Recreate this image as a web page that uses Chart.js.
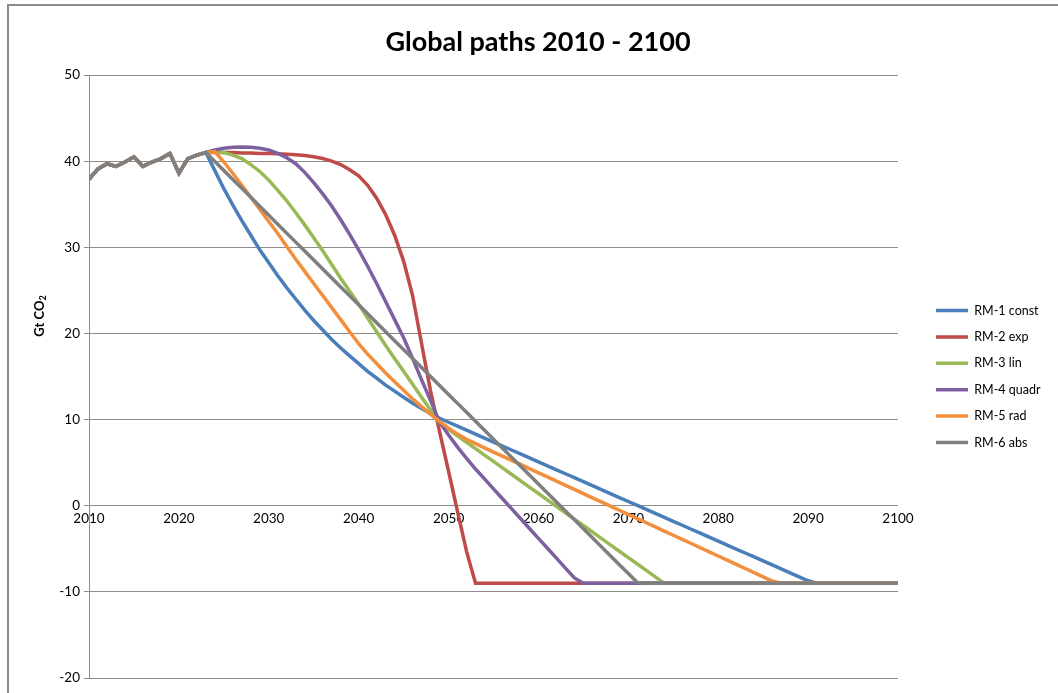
<!DOCTYPE html>
<html>
<head>
<meta charset="utf-8">
<script src="https://cdn.jsdelivr.net/npm/chart.js@4.4.1/dist/chart.umd.min.js"></script>
<style>
html,body{margin:0;padding:0;background:#fff;overflow:hidden;width:1058px;height:693px;}
#frame{position:absolute;left:7px;top:4px;width:1100px;height:800px;border:2px solid #8c8c8c;box-sizing:border-box;}
#wrap{position:absolute;left:0;top:0;width:1058px;height:693px;}
canvas{display:block;}
</style>
</head>
<body>
<div id="frame"></div>
<div id="wrap"><canvas id="c" width="1058" height="693" style="width:1058px;height:693px"></canvas></div>
<script>
// ---- data ----
const titleText = 'Global paths 2010 - 2100';
const yTitleMain = 'Gt CO';
const yTitleSub = '2';
const years = Array.from({length: 91}, (_, i) => 2010 + i); // 2010 ... 2100
const xTickStep = 10;
const yMin = -20, yMax = 50, yStep = 10;

const seriesNames = ['RM-1 const', 'RM-2 exp', 'RM-3 lin', 'RM-4 quadr', 'RM-5 rad', 'RM-6 abs'];
const seriesColors = ['#4A7EBB', '#BE4B48', '#98B954', '#7D60A0', '#F28E3C', '#7F7F7F'];

// 2010-2023 (shared history)
const history = [37.9, 39.1, 39.7, 39.4, 39.9, 40.5, 39.4, 39.9, 40.3, 40.9, 38.6, 40.3, 40.7, 41.0];

// 2024-2100
const rm1 = [38.9, 36.8, 34.9, 33.1, 31.4, 29.7, 28.2, 26.7, 25.3, 24.0,
             22.7, 21.5, 20.4, 19.3, 18.3, 17.4, 16.5, 15.6, 14.8, 14.0,
             13.3, 12.6, 11.9, 11.3, 10.7, 10.15,
             9.69, 9.23, 8.77, 8.31, 7.85, 7.39, 6.93, 6.47, 6.01, 5.55,
             5.09, 4.63, 4.17, 3.71, 3.25, 2.79, 2.33, 1.87, 1.41, 0.95,
             0.49, 0.03, -0.43, -0.89, -1.35, -1.81, -2.27, -2.73, -3.19, -3.65,
             -4.11, -4.57, -5.03, -5.49, -5.95, -6.41, -6.87, -7.33, -7.79, -8.25,
             -8.71, -9, -9, -9, -9, -9, -9, -9, -9, -9, -9];
const rm2 = [41.0, 41.0, 41.0, 40.95, 40.95, 40.9, 40.9, 40.85, 40.8, 40.75,
             40.65, 40.5, 40.3, 40.0, 39.6, 39.0, 38.3, 37.2, 35.7, 33.8,
             31.4, 28.4, 24.4, 18.8, 13.3, 8.6, 4.0, -0.7, -5.3, -9,
             -9, -9, -9, -9, -9, -9, -9, -9, -9, -9,
             -9, -9, -9, -9, -9, -9, -9, -9, -9, -9,
             -9, -9, -9, -9, -9, -9, -9, -9, -9, -9,
             -9, -9, -9, -9, -9, -9, -9, -9, -9, -9,
             -9, -9, -9, -9, -9, -9, -9];
const rm3 = [41.1, 41.0, 40.7, 40.3, 39.6, 38.8, 37.8, 36.6, 35.4, 34.0,
             32.6, 31.1, 29.6, 28.0, 26.4, 24.9, 23.4, 21.8, 20.2, 18.6,
             17.1, 15.6, 14.1, 12.6, 11.1, 9.6,
             8.86, 8.11, 7.37, 6.62, 5.88, 5.14, 4.39, 3.65, 2.90, 2.16,
             1.42, 0.67, -0.07, -0.82, -1.56, -2.30, -3.05, -3.79, -4.54, -5.28,
             -6.02, -6.77, -7.51, -8.26, -9,
             -9, -9, -9, -9, -9, -9, -9, -9, -9, -9,
             -9, -9, -9, -9, -9, -9, -9, -9, -9, -9,
             -9, -9, -9, -9, -9, -9];
const rm4 = [41.3, 41.5, 41.6, 41.65, 41.6, 41.5, 41.3, 40.9, 40.4, 39.7,
             38.7, 37.5, 36.2, 34.8, 33.2, 31.5, 29.7, 27.8, 25.8, 23.7,
             21.6, 19.5, 17.1, 14.6, 12.2, 9.7, 8.2, 6.8, 5.5, 4.26,
             3.11, 1.96, 0.81, -0.34, -1.49, -2.64, -3.79, -4.94, -6.09, -7.24,
             -8.39, -9,
             -9, -9, -9, -9, -9, -9, -9, -9, -9, -9,
             -9, -9, -9, -9, -9, -9, -9, -9, -9, -9,
             -9, -9, -9, -9, -9, -9, -9, -9, -9, -9,
             -9, -9, -9, -9, -9];
const rm5 = [41.1, 39.9, 38.6, 37.2, 35.8, 34.4, 33.0, 31.6, 30.1, 28.6,
             27.2, 25.8, 24.4, 23.0, 21.6, 20.2, 18.8, 17.6, 16.5, 15.4,
             14.4, 13.4, 12.4, 11.5, 10.6, 9.8, 9.0, 8.3, 7.7,
             7.20, 6.72, 6.23, 5.75, 5.27, 4.79, 4.30, 3.82, 3.34, 2.85,
             2.37, 1.89, 1.40, 0.92, 0.44, -0.05, -0.53, -1.01, -1.50, -1.98,
             -2.46, -2.94, -3.43, -3.91, -4.39, -4.88, -5.36, -5.84, -6.32, -6.81,
             -7.29, -7.77, -8.26, -8.74, -9,
             -9, -9, -9, -9, -9, -9, -9, -9, -9, -9, -9, -9, -9];
const rm6 = [39.96, 38.92, 37.88, 36.84, 35.8, 34.76, 33.72, 32.68, 31.64, 30.6,
             29.56, 28.52, 27.48, 26.44, 25.4, 24.36, 23.32, 22.28, 21.24, 20.2,
             19.16, 18.12, 17.08, 16.04, 15.0, 13.96, 12.92, 11.88, 10.84, 9.8,
             8.76, 7.72, 6.68, 5.64, 4.6, 3.56, 2.52, 1.48, 0.44, -0.6,
             -1.64, -2.68, -3.72, -4.76, -5.8, -6.84, -7.88, -8.92,
             -9, -9, -9, -9, -9, -9, -9, -9, -9, -9,
             -9, -9, -9, -9, -9, -9, -9, -9, -9, -9,
             -9, -9, -9, -9, -9, -9, -9, -9, -9];
const futures = [rm1, rm2, rm3, rm4, rm5, rm6];

// ---- layout helpers ----
const FONT = 'Lato';
const W = 1058;
const plotLeft = 89, plotRight = 898;
const legendFont = 12.5, legendPad = 13.9, legendBox = 32;
const legendBoxX = 936;
const spacerW = legendBoxX - plotRight - legendPad;
const mctx = document.createElement('canvas').getContext('2d');
mctx.font = legendFont + 'px ' + FONT;
const maxText = Math.max(...seriesNames.map(s => mctx.measureText(s).width));
const legendW = legendPad + legendBox + legendFont / 2 + maxText + 10;
const padRight = W - plotRight - spacerW - legendW;
const padLeft = padRight + 18; // centres the title at x ~ 538

const datasets = seriesNames.map((name, i) => ({
  label: name,
  data: history.concat(futures[i]),
  borderColor: seriesColors[i],
  backgroundColor: seriesColors[i],
  borderWidth: 3.5,
  pointRadius: 0,
  pointHoverRadius: 0,
  tension: 0,
  fill: false,
  order: seriesNames.length - i
}));

const yTitlePlugin = {
  id: 'yTitle',
  afterDraw(chart) {
    const ctx = chart.ctx;
    ctx.save();
    ctx.translate(40, 316);
    ctx.rotate(-Math.PI / 2);
    ctx.fillStyle = '#000';
    ctx.textBaseline = 'middle';
    ctx.textAlign = 'left';
    ctx.font = 'bold 13px ' + FONT;
    const w1 = ctx.measureText(yTitleMain).width;
    ctx.font = 'bold 9px ' + FONT;
    const w2 = ctx.measureText(yTitleSub).width;
    const x0 = -(w1 + w2) / 2;
    ctx.font = 'bold 13px ' + FONT;
    ctx.fillText(yTitleMain, x0, 0);
    ctx.font = 'bold 9px ' + FONT;
    ctx.fillText(yTitleSub, x0 + w1, 3);
    ctx.restore();
  }
};

new Chart(document.getElementById('c'), {
  type: 'line',
  data: { labels: years, datasets: datasets },
  options: {
    responsive: false,
    animation: false,
    devicePixelRatio: 1,
    layout: { padding: { left: padLeft, right: padRight, top: 0, bottom: 15 } },
    plugins: {
      title: {
        display: true,
        text: titleText,
        color: '#000',
        font: { family: FONT, size: 27, weight: 'bold' },
        padding: { top: 25.8, bottom: 16.8 }
      },
      legend: {
        display: true,
        position: 'right',
        fullSize: false,
        align: 'center',
        labels: {
          usePointStyle: true,
          pointStyle: 'line',
          pointStyleWidth: legendBox,
          boxWidth: legendBox,
          padding: legendPad,
          color: '#000',
          font: { family: FONT, size: legendFont },
          sort: (a, b) => a.datasetIndex - b.datasetIndex
        }
      },
      tooltip: { enabled: false }
    },
    scales: {
      x: {
        type: 'linear',
        position: { y: 0 },
        min: years[0],
        max: years[years.length - 1],
        grid: { display: false, drawTicks: false },
        border: { display: false },
        ticks: {
          stepSize: xTickStep,
          autoSkip: false,
          maxRotation: 0,
          padding: 5,
          color: '#000',
          font: { family: FONT, size: 13.5 },
          callback: v => String(v)
        }
      },
      y: {
        position: 'left',
        min: yMin,
        max: yMax,
        grid: { color: '#8c8c8c', lineWidth: 1, drawTicks: true, tickLength: 5 },
        border: { display: true, color: '#8c8c8c', width: 1 },
        ticks: {
          stepSize: yStep,
          padding: 4,
          color: '#000',
          font: { family: FONT, size: 13.5 }
        },
        afterFit(s) { s.width = plotLeft - padLeft; }
      },
      spacer: {
        axis: 'y',
        position: 'right',
        display: true,
        grid: { display: false, drawTicks: false },
        border: { display: false },
        ticks: { display: false },
        afterFit(s) { s.width = spacerW; }
      }
    }
  },
  plugins: [yTitlePlugin]
});
</script>
</body>
</html>
